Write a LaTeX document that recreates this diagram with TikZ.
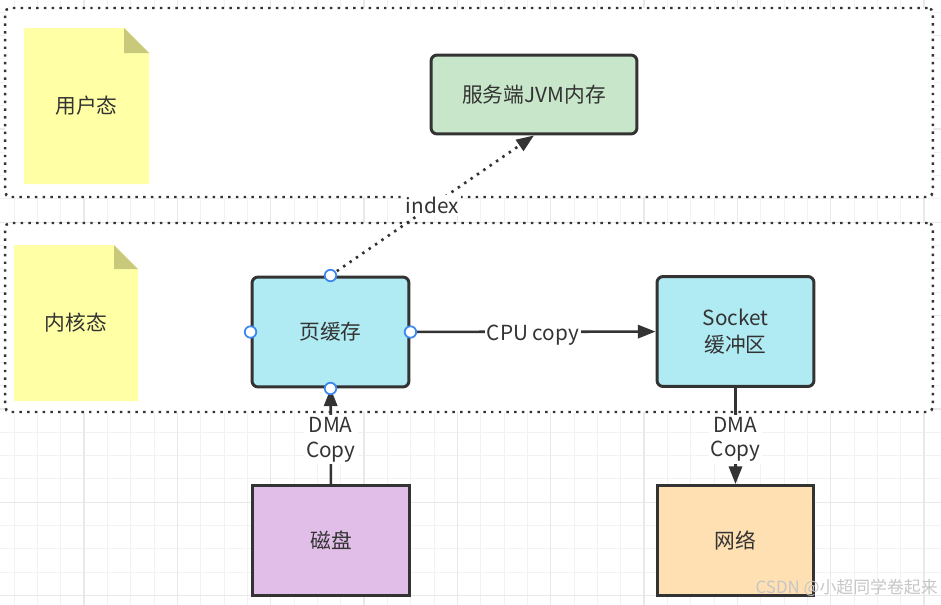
\documentclass[tikz,border=0pt]{standalone}
\usepackage{fontspec}
\setmainfont{Noto Sans CJK SC}
\usetikzlibrary{arrows.meta}
\definecolor{linegray}{HTML}{333333}
\definecolor{gridminor}{HTML}{F2F2F2}
\definecolor{gridmajor}{HTML}{E9E9E9}
\definecolor{cachefill}{HTML}{B0EAF2}
\definecolor{jvmfill}{HTML}{C8E6C9}
\definecolor{diskfill}{HTML}{E1BEE7}
\definecolor{netfill}{HTML}{FFE0B2}
\definecolor{notefill}{HTML}{FFFFA6}
\definecolor{foldfill}{HTML}{C9C97C}
\definecolor{handleblue}{HTML}{3C87F0}
\begin{document}
\begin{tikzpicture}
        [x=0.02cm,y=-0.02cm,
         every node/.style={inner sep=0pt, text=linegray, font=\fontsize{11.8}{15}\selectfont, align=center},
         box/.style={draw=linegray, line width=1.7pt, minimum width=3.14cm, minimum height=2.2cm},
         zone/.style={draw=linegray, fill=white, line width=1.4pt, dash pattern=on 1.4pt off 3pt, rounded corners=3pt, minimum width=18.56cm, minimum height=3.78cm},
         link/.style={draw=linegray, line width=1.5pt, -{Triangle[length=10pt, width=7.5pt]}},
         lab/.style={fill=white, inner sep=1.2pt, font=\fontsize{11.8}{14}\selectfont},
         handle/.style={circle, draw=handleblue, fill=white, line width=1pt, minimum size=0.23cm}]
      \useasboundingbox (0,0) rectangle (941,605);

      % background grid
      \foreach \i in {0,...,40}
        \draw[gridminor, line width=0.55pt] (14+\i*23.333,0) -- (14+\i*23.333,605);
      \foreach \i in {0,...,25}
        \draw[gridminor, line width=0.55pt] (0,12.3+\i*23.333) -- (941,12.3+\i*23.333);
      \foreach \i in {0,...,9}
        \draw[gridmajor, line width=0.6pt] (84+\i*93.333,0) -- (84+\i*93.333,605);
      \foreach \i in {0,...,6}
        \draw[gridmajor, line width=0.6pt] (0,35.65+\i*93.333) -- (941,35.65+\i*93.333);

      % user space and kernel space
      \node[zone] (user) at (469,102.5) {};
      \node[zone] (kernel) at (469,317.5) {};

      \fill[notefill] (24,28) -- (124,28) -- (149,53) -- (149,184) -- (24,184) -- cycle;
      \fill[foldfill] (124,28) -- (149,53) -- (124,53) -- cycle;
      \node (usrlab) at (86.5,106) {用户态};

      \fill[notefill] (14,245) -- (114,245) -- (138,269) -- (138,401) -- (14,401) -- cycle;
      \fill[foldfill] (114,245) -- (138,269) -- (114,269) -- cycle;
      \node (kerlab) at (76,323) {内核态};

      \node[box, fill=jvmfill, rounded corners=3.5pt, minimum width=4.12cm, minimum height=1.58cm] (jvm) at (534,94.5) {服务端JVM内存};
      \node[box, fill=cachefill, rounded corners=3.5pt] (cache) at (330.5,332) {页缓存};
      \node[box, fill=cachefill, rounded corners=3.5pt, font=\fontsize{11.8}{15.4}\selectfont] (sock) at (735.5,331.5) {Socket\\缓冲区};
      \node[box, fill=diskfill] (disk) at (331,540.5) {磁盘};
      \node[box, fill=netfill] (net) at (735.5,540.5) {网络};

      \draw[link, dash pattern=on 1.4pt off 3pt] (cache.north) -- (jvm.south) node[lab, midway] {index};
      \foreach \from/\to/\elab in {cache/sock/CPU copy, disk/cache/{DMA\\Copy}, sock/net/{DMA\\Copy}}
        \draw[link] (\from) -- (\to) node[lab, midway, yshift=-2pt] {\elab};

      \foreach \a in {north,south,east,west}
        \node[handle] (h-\a) at (cache.\a) {};

      \node[text=gray!45, font=\fontsize{9.6}{11}\selectfont, anchor=east] (mark) at (938,588) {CSDN @小超同学卷起来};
    \end{tikzpicture}
\end{document}
